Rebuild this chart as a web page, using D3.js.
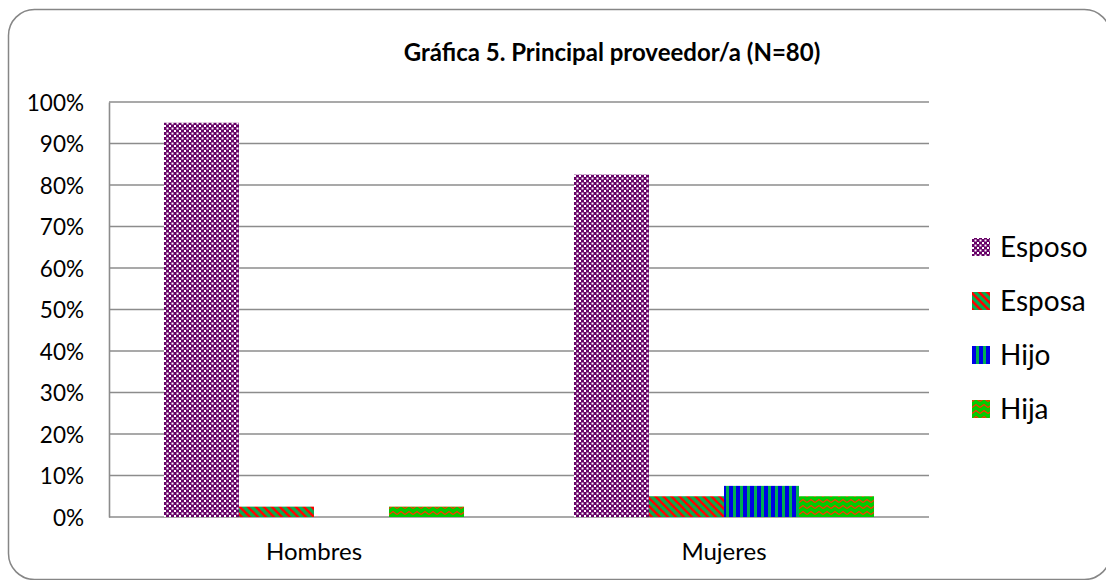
<!DOCTYPE html>
<html>
<head>
<meta charset="utf-8">
<script src="https://cdn.jsdelivr.net/npm/d3@7"></script>
<style>
  body { margin: 0; background: #fff; }
  svg text { font-family: Lato, "Open Sans", sans-serif; fill: #000; }
</style>
</head>
<body>
<div class="container"></div>
<script>
// data
const categories = ['Hombres', 'Mujeres']
const seriesNames = ['Esposo', 'Esposa', 'Hijo', 'Hija']
const hombres = [95, 2.5, 0, 2.5]
const mujeres = [82.5, 5, 7.5, 5]
const yTicks = [0, 10, 20, 30, 40, 50, 60, 70, 80, 90, 100]
const title = 'Gráfica 5. Principal proveedor/a (N=80)'

const W = 1106, H = 580
const plot = {left: 109, right: 929, top: 102, bottom: 517}

const svg = d3.select('.container')
    .append('svg')
    .attr('width', W)
    .attr('height', H)

//patterns
const defs = svg.append('defs')

// purple checkerboard (white squares a bit smaller than purple)
const p1 = defs.append('pattern').attr('id', 'pat-esposo')
    .attr('patternUnits', 'userSpaceOnUse').attr('width', 5).attr('height', 5)
p1.append('rect').attr('width', 5).attr('height', 5).attr('fill', '#660066')
p1.append('rect').attr('width', 2).attr('height', 2).attr('fill', '#fff')
p1.append('rect').attr('x', 2.5).attr('y', 2.5).attr('width', 2).attr('height', 2).attr('fill', '#fff')

const p2 = defs.append('pattern').attr('id', 'pat-esposa')
    .attr('patternUnits', 'userSpaceOnUse').attr('width', 8).attr('height', 8)
p2.append('rect').attr('width', 8).attr('height', 8).attr('fill', '#00b050')
p2.append('path')
    .attr('d', 'M-1,-1 L9,9 M-5,3 L5,13 M3,-5 L13,5')
    .attr('stroke', '#ff0000').attr('stroke-width', 2.6)

const p3 = defs.append('pattern').attr('id', 'pat-hijo')
    .attr('patternUnits', 'userSpaceOnUse').attr('width', 7).attr('height', 7)
p3.append('rect').attr('width', 7).attr('height', 7).attr('fill', '#00b050')
p3.append('rect').attr('width', 4).attr('height', 7).attr('fill', '#0000e6')

const p4 = defs.append('pattern').attr('id', 'pat-hija')
    .attr('patternUnits', 'userSpaceOnUse').attr('width', 8).attr('height', 6)
p4.append('rect').attr('width', 8).attr('height', 6).attr('fill', '#00cc00')
p4.append('path')
    .attr('d', 'M0,4.5 L4,1.5 L8,4.5')
    .attr('fill', 'none').attr('stroke', '#ff3300').attr('stroke-width', 1.4)

const fills = d3.scaleOrdinal()
    .domain(seriesNames)
    .range(['url(#pat-esposo)', 'url(#pat-esposa)', 'url(#pat-hijo)', 'url(#pat-hija)'])

// outer frame
svg.append('rect')
    .attr('x', 8.5).attr('y', 9.5)
    .attr('width', 1102).attr('height', 570)
    .attr('rx', 26).attr('ry', 26)
    .attr('fill', 'none')
    .attr('stroke', '#868686')
    .attr('stroke-width', 1.5)

//scales
const x = d3.scaleBand()
    .domain(categories)
    .range([plot.left, plot.right])

const xInner = d3.scaleBand()
    .domain(seriesNames)
    .range([0, x.bandwidth()])
    .paddingOuter(0.733)

const y = d3.scaleLinear()
    .domain([0, 100])
    .range([plot.bottom, plot.top])

//gridlines
svg.append('g')
    .selectAll('line')
    .data(yTicks)
    .join('line')
    .attr('x1', plot.left).attr('x2', plot.right)
    .attr('y1', d => y(d)).attr('y2', d => y(d))
    .attr('stroke', '#8c8c8c')
    .attr('stroke-width', 1.6)

// y axis
const yAxis = svg.append('g')
    .attr('transform', `translate(${plot.left},0)`)
    .call(d3.axisLeft(y).tickValues(yTicks).tickFormat(d => d + '%').tickSize(0).tickPadding(25))
yAxis.select('.domain').attr('stroke', '#8c8c8c').attr('stroke-width', 1.6)
yAxis.selectAll('text')
    .style('font-size', '22.5px')
    .attr('dy', '0.36em')

//bars
const rows = categories.map((c, i) => ({
    cat: c,
    vals: seriesNames.map((s, j) => ({key: s, value: (i === 0 ? hombres : mujeres)[j]}))
}))

const groups = svg.append('g')
    .selectAll('g')
    .data(rows)
    .join('g')
    .attr('transform', d => `translate(${x(d.cat)},0)`)

groups.selectAll('rect')
    .data(d => d.vals.filter(v => v.value > 0))
    .join('rect')
    .attr('x', d => xInner(d.key))
    .attr('width', xInner.bandwidth())
    .attr('y', d => y(d.value))
    .attr('height', d => y(0) - y(d.value))
    .attr('fill', d => fills(d.key))

// x axis labels
const xAxis = svg.append('g')
    .attr('transform', `translate(0,${plot.bottom})`)
    .call(d3.axisBottom(x).tickSize(0).tickPadding(26))
xAxis.select('.domain').remove()
xAxis.selectAll('text').style('font-size', '24px')

//title
svg.append('text')
    .attr('x', 612)
    .attr('y', 52)
    .attr('dy', '0.36em')
    .attr('text-anchor', 'middle')
    .style('font-size', '24px')
    .style('font-weight', 'bold')
    .text(title)

//legend
const ly = d3.scalePoint()
    .domain(seriesNames)
    .range([247, 409])

const legend = svg.append('g')
    .selectAll('g')
    .data(seriesNames)
    .join('g')
    .attr('transform', d => `translate(972,${ly(d)})`)

legend.append('rect')
    .attr('x', 0).attr('y', -9)
    .attr('width', 18).attr('height', 18)
    .attr('fill', d => fills(d))

legend.append('text')
    .attr('x', 28)
    .attr('dy', '0.36em')
    .style('font-size', '28px')
    .text(d => d)
</script>
</body>
</html>
